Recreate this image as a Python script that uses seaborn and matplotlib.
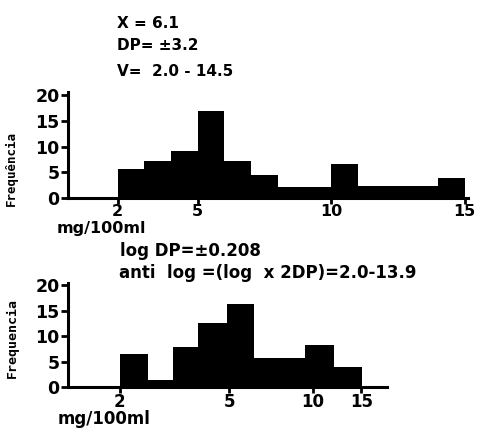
import numpy as np
import pandas as pd
import seaborn as sns
import matplotlib.pyplot as plt
from matplotlib.ticker import NullLocator

# ---- data ----
top_edges = [2, 3, 4, 5, 6, 7, 8, 9, 10, 11, 12, 13, 14, 15]
top_counts = [5.7, 7.2, 9.2, 16.9, 7.1, 4.4, 2.1, 2.1, 6.6, 2.3, 2.3, 2.3, 3.9]
bot_edges = [2.0, 2.53, 3.13, 3.86, 4.88, 6.15, 7.6, 9.38, 11.97, 15.1]
bot_counts = [6.5, 1.4, 7.8, 12.5, 16.3, 5.6, 5.6, 8.2, 4.0]
x_ticks = [2, 5, 10, 15]
y_ticks = [0, 5, 10, 15, 20]

sns.set_theme(style='ticks')
plt.rcParams['font.family'] = ['DejaVu Sans']
plt.rcParams['font.weight'] = 'bold'

W, H = 478, 429
fig = plt.figure(figsize=(W / 100, H / 100), dpi=100)


def px_axes(left, top, right, bottom):
    return fig.add_axes([left / W, 1 - bottom / H, (right - left) / W, (bottom - top) / H])


def style(ax, xsize=12):
    for s in ['top', 'right']:
        ax.spines[s].set_visible(False)
    for s in ['left', 'bottom']:
        ax.spines[s].set_linewidth(2.2)
        ax.spines[s].set_color('black')
    ax.tick_params(axis='y', direction='out', length=5, width=2, color='black',
                   labelsize=12.5, pad=1, labelcolor='black')
    ax.tick_params(axis='x', direction='out', length=4, width=2, color='black',
                   labelsize=xsize, pad=0.5, labelcolor='black')
    ax.set_yticks(y_ticks)
    ax.set_yticklabels([str(v) for v in y_ticks], fontweight='bold')
    ax.set_xlabel('')
    ax.set_ylabel('')
    ax.set_facecolor('white')


# top histogram (linear scale)
ax1 = px_axes(68, 92, 468, 198)
t_edges = np.array(top_edges, dtype=float)
t_centers = (t_edges[:-1] + t_edges[1:]) / 2
df1 = pd.DataFrame({'conc': t_centers, 'freq': top_counts})
sns.histplot(data=df1, x='conc', weights='freq', bins=list(t_edges), ax=ax1,
             color='black', edgecolor='black', linewidth=0, alpha=1)
ax1.set_xlim(0.14, 15.12)
ax1.set_ylim(0, 20.6)
style(ax1, xsize=11.5)
ax1.set_xticks(x_ticks)
ax1.set_xticklabels([str(v) for v in x_ticks], fontweight='bold')

# bottom histogram (log scale)
ax2 = px_axes(68, 283, 387, 387)
b_edges = np.array(bot_edges, dtype=float)
b_centers = np.sqrt(b_edges[:-1] * b_edges[1:])
df2 = pd.DataFrame({'conc': b_centers, 'freq': bot_counts})
sns.histplot(data=df2, x='conc', weights='freq', bins=list(np.log10(b_edges)), log_scale=True,
             ax=ax2, color='black', edgecolor='black', linewidth=0, alpha=1)
ax2.set_xlim(1.3, 18.6)
ax2.set_ylim(0, 20.4)
style(ax2, xsize=12)
ax2.set_xticks(x_ticks)
ax2.set_xticklabels([str(v) for v in x_ticks], fontweight='bold')
ax2.xaxis.set_minor_locator(NullLocator())


def ftext(x, y, s, **kw):
    kw.setdefault('fontsize', 11)
    kw.setdefault('fontweight', 'bold')
    kw.setdefault('va', 'center')
    kw.setdefault('ha', 'left')
    fig.text(x / W, 1 - y / H, s, color='black', **kw)


ftext(117, 24, 'X = 6.1')
ftext(117, 46, 'DP= ±3.2')
ftext(117, 71, 'V=  2.0 - 14.5')
ftext(101, 229, 'mg/100ml', ha='center', fontsize=11.5)
ftext(120, 251, 'log DP=±0.208', fontsize=12)
ftext(119, 273, 'anti  log =(log  x 2DP)=2.0-13.9', fontsize=12)
ftext(104, 419, 'mg/100ml', ha='center', fontsize=12)

ftext(11, 168, 'Frequência', rotation=90, ha='center', fontsize=9,
      family=['DejaVu Sans Mono'])
ftext(12, 338, 'Frequencia', rotation=90, ha='center', fontsize=9.5,
      family=['DejaVu Sans Mono'])

fig.savefig('out.png', dpi=100, facecolor='white')
